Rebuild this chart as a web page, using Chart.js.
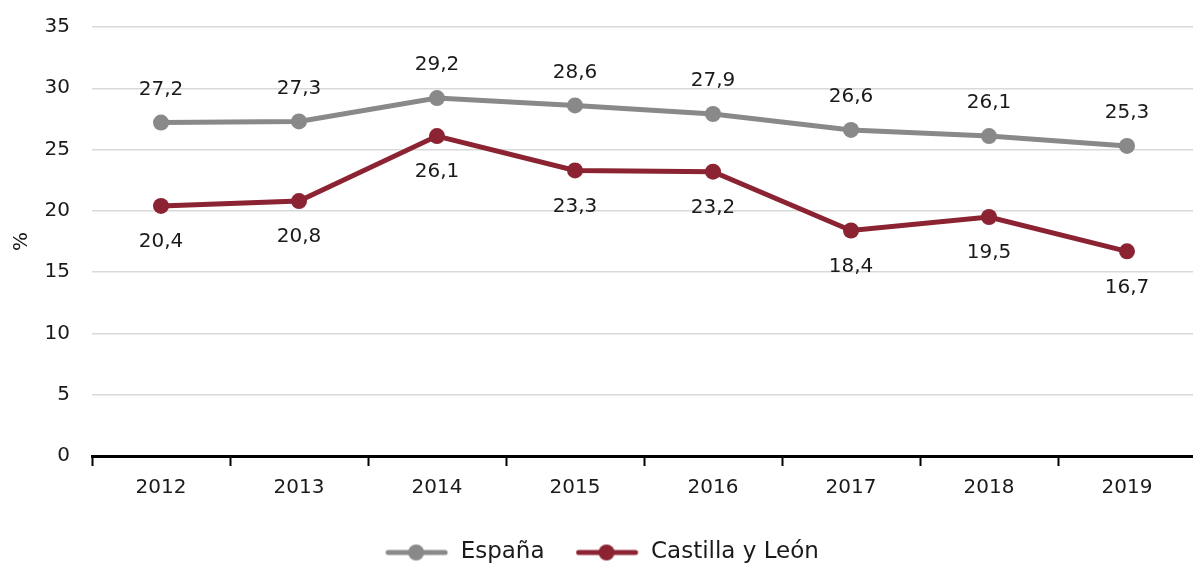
<!DOCTYPE html>
<html>
<head>
<meta charset="utf-8">
<script src="https://cdn.jsdelivr.net/npm/chart.js@4/dist/chart.umd.min.js"></script>
<style>
  html, body { margin: 0; padding: 0; background: #fff; overflow: hidden; }
  #wrap { width: 1204px; height: 563px; }
</style>
</head>
<body>
<div id="wrap"><canvas id="grafico" width="1204" height="563"></canvas></div>
<script>
"use strict";

var anios = ["2012", "2013", "2014", "2015", "2016", "2017", "2018", "2019"];
var espana = [27.2, 27.3, 29.2, 28.6, 27.9, 26.6, 26.1, 25.3];
var castillaLeon = [20.4, 20.8, 26.1, 23.3, 23.2, 18.4, 19.5, 16.7];
var nombres = ["España", "Castilla y León"];

var gris = "#898989";
var granate = "#8b2332";
var fuente = "'DejaVu Sans', sans-serif";

// marcador de leyenda: linea con punto
function marcador(color) {
  var c = document.createElement("canvas");
  c.width = 64;
  c.height = 20;
  var ctx = c.getContext("2d");
  ctx.strokeStyle = color;
  ctx.lineWidth = 5;
  ctx.lineCap = "round";
  ctx.beginPath();
  ctx.moveTo(3, 10);
  ctx.lineTo(60, 10);
  ctx.stroke();
  ctx.fillStyle = color;
  ctx.beginPath();
  ctx.arc(31, 10, 8, 0, Math.PI * 2);
  ctx.fill();
  return c;
}

// etiquetas de datos
var etiquetas = {
  id: "etiquetas",
  afterDatasetsDraw: function (chart) {
    var ctx = chart.ctx;
    ctx.save();
    ctx.font = "20px " + fuente;
    ctx.fillStyle = "#1a1a1a";
    ctx.textAlign = "center";
    ctx.textBaseline = "middle";
    chart.data.datasets.forEach(function (ds, i) {
      var meta = chart.getDatasetMeta(i);
      meta.data.forEach(function (p, j) {
        var txt = ds.data[j].toFixed(1).replace(".", ",");
        var dy = i === 0 ? -33 : 36;
        ctx.fillText(txt, p.x, p.y + dy);
      });
    });
    ctx.restore();
  },
};

var ctx = document.getElementById("grafico").getContext("2d");
var grafico = new Chart(ctx, {
  type: "line",
  data: {
    labels: anios,
    datasets: [
      {
        label: nombres[0],
        data: espana,
        borderColor: gris,
        backgroundColor: gris,
        borderWidth: 5,
        pointRadius: 8,
        pointHoverRadius: 8,
        pointBorderWidth: 0,
        tension: 0,
        marcador: marcador(gris),
      },
      {
        label: nombres[1],
        data: castillaLeon,
        borderColor: granate,
        backgroundColor: granate,
        borderWidth: 5,
        pointRadius: 8,
        pointHoverRadius: 8,
        pointBorderWidth: 0,
        tension: 0,
        marcador: marcador(granate),
      },
    ],
  },
  options: {
    responsive: false,
    animation: false,
    layout: { padding: { top: 27, left: 0, right: 0, bottom: -11 } },
    plugins: {
      tooltip: { enabled: false },
      legend: {
        position: "bottom",
        labels: {
          usePointStyle: true,
          pointStyleWidth: 64,
          color: "#1a1a1a",
          font: { family: fuente, size: 23 },
          padding: 31,
          generateLabels: function (chart) {
            return chart.data.datasets.map(function (ds, i) {
              return {
                text: ds.label,
                pointStyle: ds.marcador,
                fillStyle: ds.borderColor,
                strokeStyle: ds.borderColor,
                lineWidth: 0,
                hidden: false,
                datasetIndex: i,
                fontColor: "#1a1a1a",
              };
            });
          },
        },
      },
    },
    scales: {
      x: {
        offset: true,
        grid: {
          offset: true,
          drawOnChartArea: false,
          drawTicks: true,
          tickLength: 10,
          tickColor: "#000",
          tickWidth: 2,
        },
        border: { color: "#000", width: 3 },
        ticks: {
          color: "#1a1a1a",
          font: { family: fuente, size: 20 },
          padding: 10,
        },
      },
      y: {
        min: 0,
        max: 35,
        afterFit: function (scale) {
          scale.width = 92;
          scale.paddingTop = 0;
          scale.paddingBottom = 0;
        },
        ticks: {
          stepSize: 5,
          color: "#1a1a1a",
          font: { family: fuente, size: 20 },
          padding: 22,
        },
        grid: { color: "#d9d9d9", lineWidth: 1.5, drawTicks: false },
        border: { display: false },
        title: {
          display: true,
          text: "%",
          color: "#1a1a1a",
          font: { family: fuente, size: 20 },
          padding: { top: 10, bottom: 9 },
        },
      },
    },
  },
  plugins: [etiquetas],
});
</script>
</body>
</html>
